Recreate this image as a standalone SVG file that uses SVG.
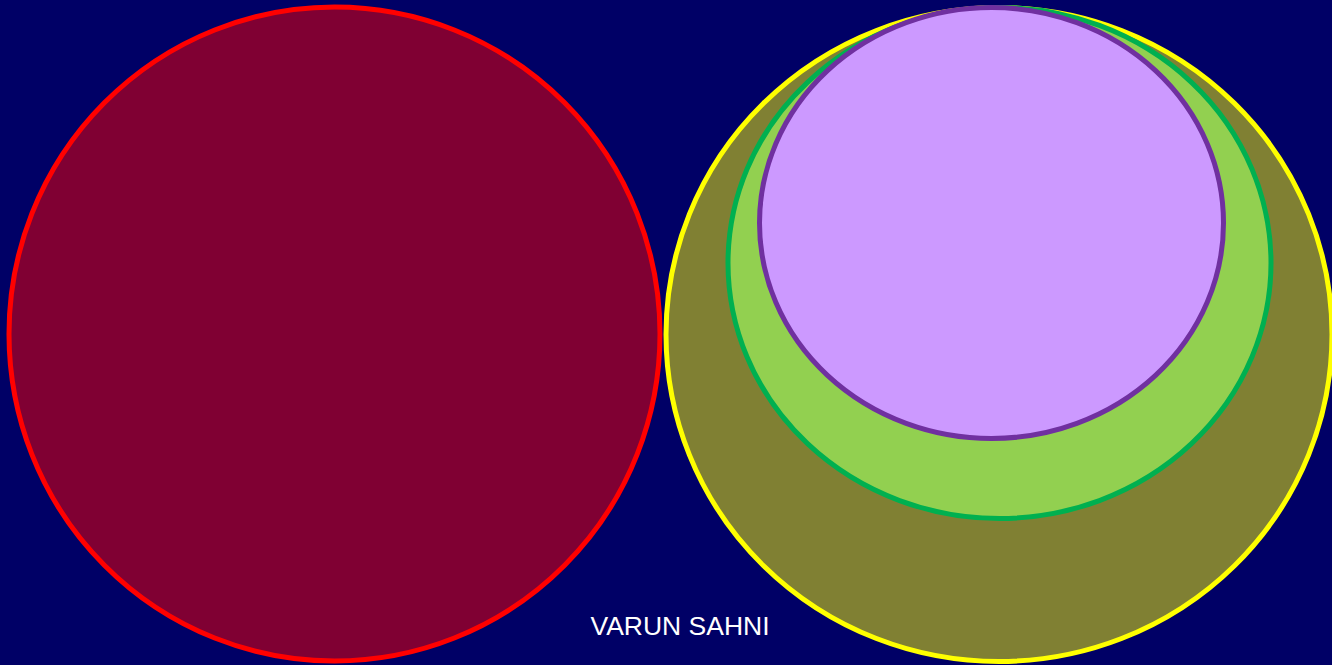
<svg xmlns="http://www.w3.org/2000/svg" width="1332" height="665" viewBox="0 0 1332 665">
<style>
.lbl{font-family:"Liberation Sans",Arial,sans-serif;font-size:26.5px;fill:#FFFFFF}
</style>
<rect x="0" y="0" width="1332" height="665" fill="#000066"/>
<g id="red-circle"><ellipse cx="334.5" cy="334" rx="325.5" ry="327" fill="#800033" stroke="#FF0000" stroke-width="5"/></g>
<g id="yellow-circle"><ellipse cx="999" cy="334.5" rx="333" ry="327" fill="#808033" stroke="#FFFF00" stroke-width="5"/></g>
<g id="green-circle"><ellipse cx="999.5" cy="263" rx="271.5" ry="255.5" fill="#92D050" stroke="#00B050" stroke-width="5"/></g>
<g id="purple-circle"><ellipse cx="991.5" cy="223" rx="232" ry="215.5" fill="#CC99FF" stroke="#7030A0" stroke-width="5"/></g>
<g id="label"><text class="lbl" x="680" y="635" text-anchor="middle">VARUN SAHNI</text></g>
</svg>
